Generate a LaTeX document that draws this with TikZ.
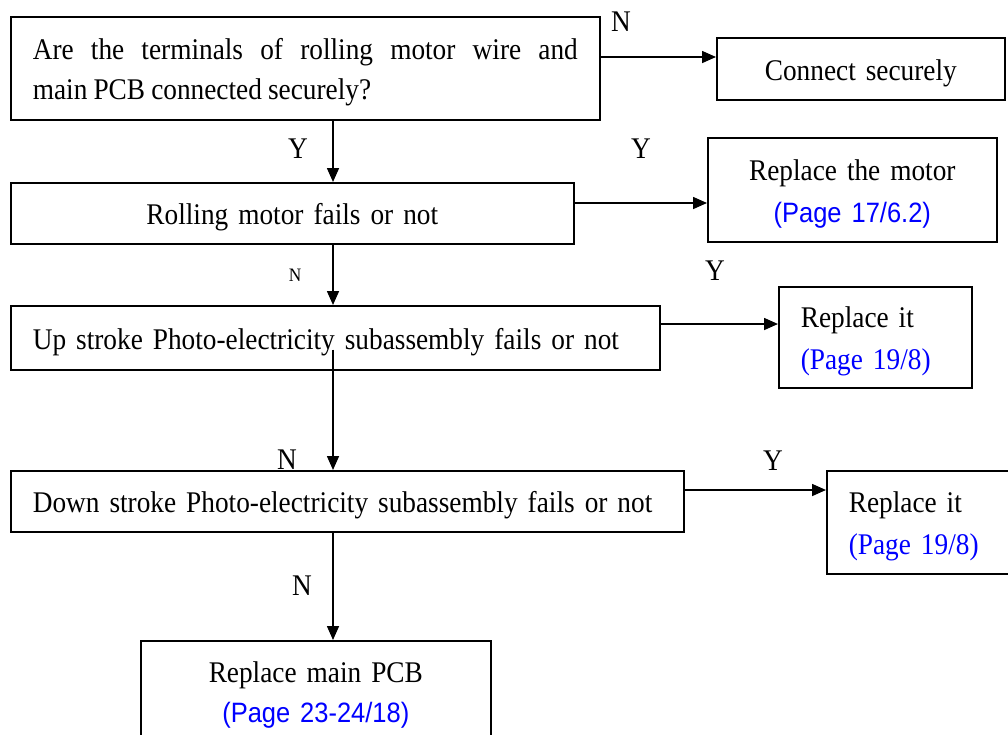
\documentclass[tikz,border=0pt]{standalone}
\usepackage{fontspec}
\setmainfont[FakeStretch=0.91, WordSpace=0.9]{Liberation Serif}
\newfontfamily\pagefont[FakeStretch=0.91, WordSpace=0.9]{Liberation Sans}
\usepackage{xcolor}
\usetikzlibrary{arrows.meta, positioning, calc}

\begin{document}
\begin{tikzpicture}[
    x=1pt, y=-1pt,
    block/.style={rectangle, draw=black, line width=1.6pt, inner xsep=22pt, inner ysep=0pt, anchor=north west,
      font=\fontsize{30}{40}\selectfont, execute at begin node={\rule{0pt}{29pt}}},
    arrow/.style={-{Triangle[length=14pt, width=12pt]}, line width=1.6pt},
    yn/.style={inner sep=0pt, font=\fontsize{30}{30}\selectfont},
    ynsmall/.style={inner sep=0pt, font=\fontsize{19}{20}\selectfont},
  ]
  \clip (0,0) rectangle (1008,734);

  % Terminals
  \node[block, text width=545pt, align=justify, minimum height=103pt] (terminals) at (10,16)
    {Are the terminals of rolling motor wire and\linebreak main PCB connected securely?};
  \node[block, text width=244pt, align=center, minimum height=62pt] (connect) at (716,37) {Connect securely};

  % Motor
  \node[block, text width=519pt, align=center, minimum height=61pt] (motor) at (10,182) {Rolling motor fails or not};
  \node[block, text width=245pt, align=center, minimum height=104pt] (newmotor) at (707,137)
    {Replace the motor\\[2pt]{\pagefont\fontsize{28}{40}\selectfont\color{blue}(Page 17/6.2)}};

  % Up stroke
  \node[block, text width=605pt, align=left, minimum height=64pt] (upstroke) at (10,305)
    {Up stroke Photo-electricity subassembly fails or not};
  \node[block, text width=149pt, align=left, minimum height=101pt] (newup) at (778,286)
    {Replace it\\[2pt]{\color{blue}(Page 19/8)}};

  % Down stroke
  \node[block, text width=629pt, align=left, minimum height=61pt] (downstroke) at (10,470)
    {Down stroke Photo-electricity subassembly fails or not};
  \node[block, text width=160pt, align=left, minimum height=103pt] (newdown) at (826,470)
    {Replace it\\[2pt]{\color{blue}(Page 19/8)}};

  % PCB
  \node[block, text width=306pt, align=center, minimum height=100pt] (pcb) at (140,640)
    {Replace main PCB\\{\pagefont\fontsize{28}{40}\selectfont\color{blue}(Page 23-24/18)}};

  % Arrows
  \draw[arrow] (terminals.east |- 0,57) -- (connect.west |- 0,57);
  \draw[arrow] (terminals.south -| 333,0) -- (motor.north -| 333,0);
  \draw[arrow] (motor.east |- 0,203) -- (newmotor.west |- 0,203);
  \draw[arrow] (motor.south -| 333,0) -- (upstroke.north -| 333,0);
  \draw[arrow] (upstroke.east |- 0,324) -- (newup.west |- 0,324);
  \draw[arrow] ($(upstroke.south -| 333,0)+(0,-21)$) -- (downstroke.north -| 333,0);
  \draw[arrow] (downstroke.east |- 0,490) -- (newdown.west |- 0,490);
  \draw[arrow] (downstroke.south -| 333,0) -- (pcb.north -| 333,0);

  % Labels
  \node[yn] (n1) at (621,22) {N};
  \node[yn] (y1) at (298,149) {Y};
  \node[yn] (y2) at (641,149) {Y};
  \node[ynsmall] (n2) at (295,275) {N};
  \node[yn] (y3) at (715,271) {Y};
  \node[yn] (n3) at (287,460) {N};
  \node[yn] (y4) at (773,461) {Y};
  \node[yn] (n4) at (302,586) {N};

\end{tikzpicture}
\end{document}
